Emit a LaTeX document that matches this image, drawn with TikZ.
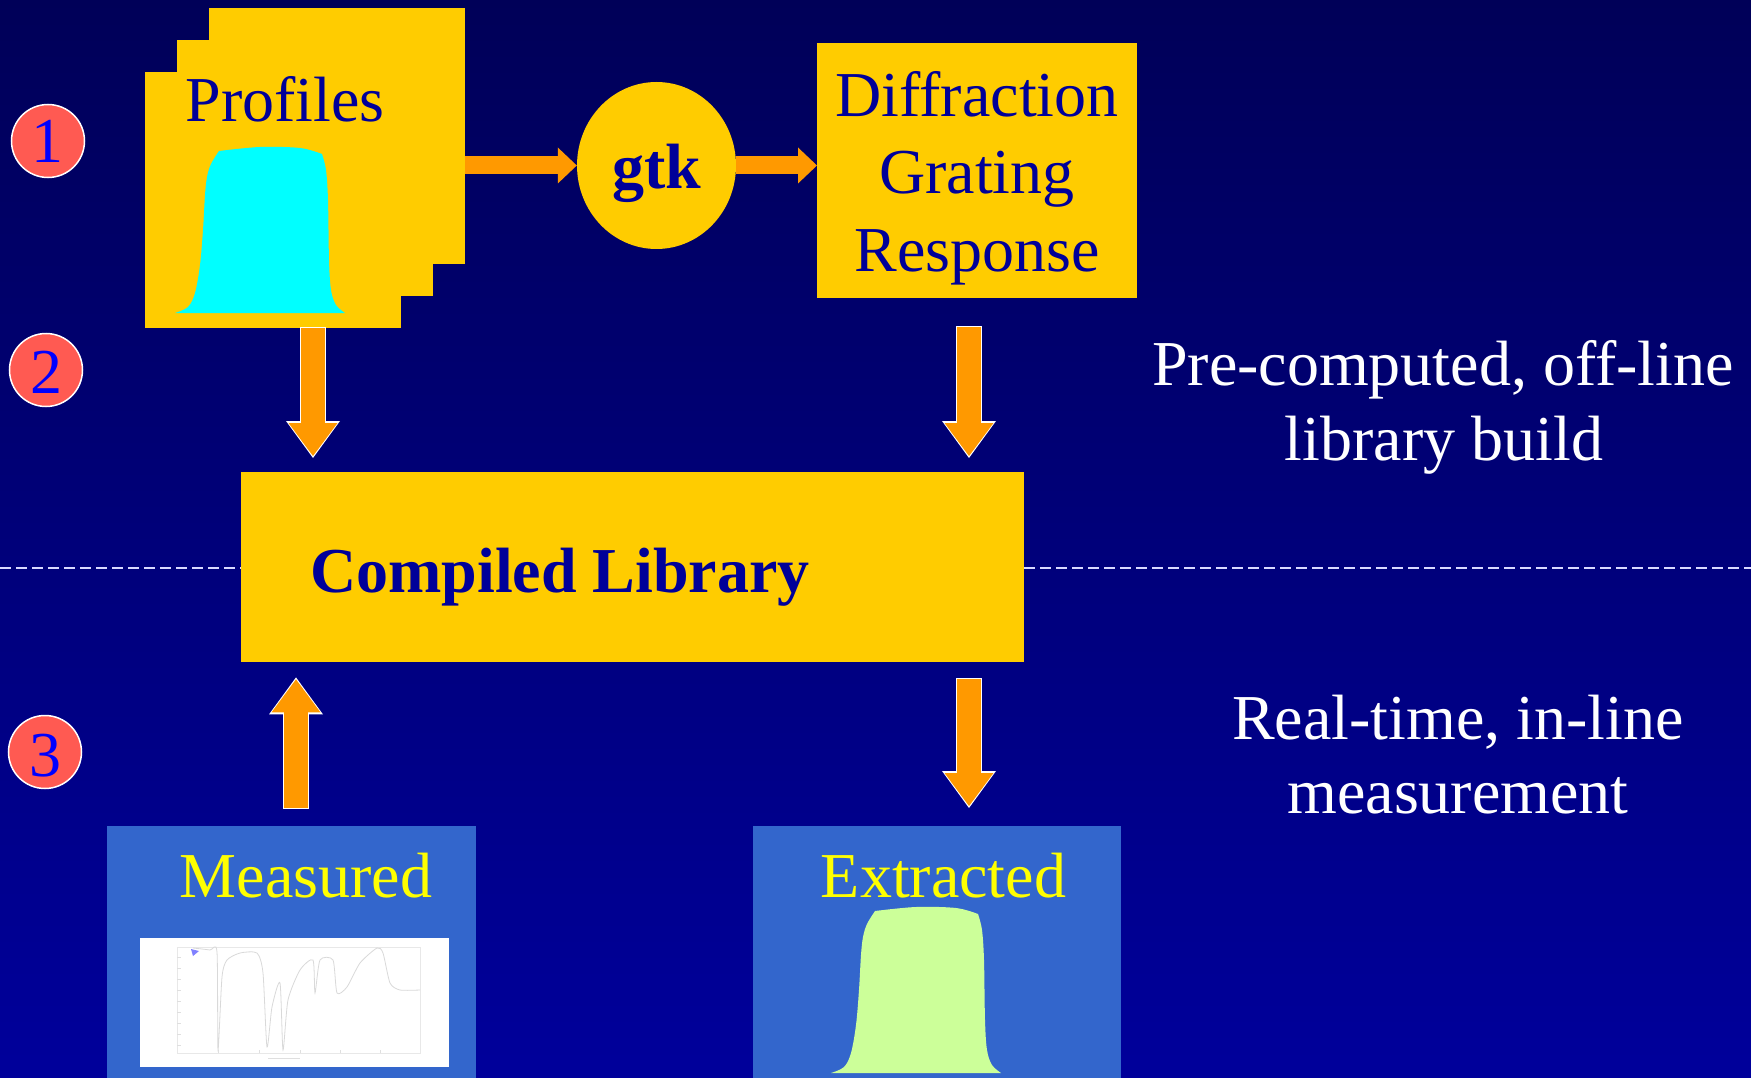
\documentclass[tikz,border=0pt]{standalone}
\usepackage{fontspec}
\setmainfont{Liberation Serif}
\usetikzlibrary{shapes.geometric,arrows.meta}
\definecolor{bgtop}{RGB}{0,0,88}
\definecolor{bgbot}{RGB}{0,0,155}
\definecolor{gold}{RGB}{255,204,0}
\definecolor{orng}{RGB}{255,153,0}
\definecolor{navytext}{RGB}{0,0,153}
\definecolor{coral}{RGB}{255,90,82}
\definecolor{numblue}{RGB}{0,0,255}
\definecolor{panel}{RGB}{51,102,204}
\definecolor{lime}{RGB}{204,255,153}
\definecolor{cyanfill}{RGB}{0,255,255}
\definecolor{yel}{RGB}{255,255,0}
\newcommand\bellshape{plot[smooth,tension=0.55] coordinates {(175,313) (188,307) (195,293) (200,265) (203,230) (205,195) (207,177) (211,164) (219,151)}
  -- plot[smooth,tension=0.55] coordinates {(219,151) (260,147) (300,148) (322,154)}
  -- plot[smooth,tension=0.55] coordinates {(322,154) (326,170) (328,200) (329,260) (331,290) (336,305) (345,313)} -- cycle}
\begin{document}
\begin{tikzpicture}[x=1pt,y=-1pt,
  txt/.style={font=\fontsize{64}{77}\selectfont, inner sep=0pt, anchor=base},
  boldtxt/.style={txt, font=\fontsize{64}{77}\selectfont\bfseries},
  ybox/.style={fill=gold, draw=none, inner sep=0pt, anchor=north west},
  pbox/.style={fill=panel, draw=none, inner sep=0pt, anchor=north west},
  numcirc/.style={circle, fill=coral, draw=white, line width=1.5pt, minimum size=73pt, inner sep=0pt},
  harrow/.style={draw=orng, line width=18pt, -{Triangle[length=19pt,width=36pt,line width=0pt]}},
  varrowbg/.style={draw=white, line width=26.5pt, -{Triangle[length=37pt,width=54pt,line width=0pt]}},
  varrowfg/.style={draw=orng, line width=24pt, -{Triangle[length=33pt,width=49pt,line width=0pt]}},
  sepline/.style={draw=white!85!blue, line width=1.5pt, dash pattern=on 11pt off 5pt}
]
\useasboundingbox (0,0) rectangle (1751,1078);
\shade[top color=bgtop, bottom color=bgbot] (0,0) rectangle (1751,1078);

% separator
\coordinate (sepL) at (0,568);
\coordinate (sepR) at (1751,568);
\draw[sepline] (sepL) -- (sepR);

% number circles
\node[numcirc] (c1) at (48,141) {};
\node[numcirc] (c2) at (46,370) {};
\node[numcirc] (c3) at (45,752) {};
\node[txt, text=numblue] (n1) at (47,163) {1};
\node[txt, text=numblue] (n2) at (46,393) {2};
\node[txt, text=numblue] (n3) at (45,776) {3};

% profiles stack
\node[ybox, minimum width=256pt, minimum height=256pt] (sheet3) at (209,8) {};
\node[ybox, minimum width=256pt, minimum height=256pt] (sheet2) at (177,40) {};
\node[ybox, minimum width=256pt, minimum height=256pt] (prof) at (145,72) {};
\node[txt, text=navytext] (tprof) at (285,122) {Profiles};
\fill[cyanfill] \bellshape;

% gtk
\node[ellipse, fill=gold, minimum width=159pt, minimum height=167pt, inner sep=0pt] (gtk) at (656.5,165.5) {};
\node[boldtxt, text=navytext] (tgtk) at (656.5,189) {gtk};

% diffraction grating response
\node[ybox, minimum width=320pt, minimum height=255pt] (dgr) at (817,43) {};
\node[txt, text=navytext] (d1) at (977,117) {Diffraction};
\node[txt, text=navytext] (d2) at (977,194) {Grating};
\node[txt, text=navytext] (d3) at (977,271) {Response};

% compiled library
\node[ybox, minimum width=783pt, minimum height=190pt] (lib) at (241,472) {};
\node[boldtxt, text=navytext, anchor=base west] (tlib) at (310,592) {Compiled Library};

% measured / extracted
\node[pbox, minimum width=369pt, minimum height=252pt] (meas) at (107,826) {};
\node[txt, text=yel] (tmeas) at (306,897) {Measured};
\node[fill=white, inner sep=0pt, anchor=north west, minimum width=309pt, minimum height=129pt] (plot) at (140,938) {};
\draw[gray!18, line width=0.6pt] (177,947) rectangle (420,1053);
\foreach \yy in {957,968,979,990,1001,1012,1023,1034,1045} {\draw[gray!25, line width=0.5pt] (177,\yy) -- (181,\yy);}
\foreach \xx in {218,259,300,340,380} {\draw[gray!25, line width=0.5pt] (\xx,1053) -- (\xx,1050);}
\draw[gray!25, line width=0.6pt] (268,1058) -- (300,1058);
\draw[gray!30, line width=0.8pt] plot[smooth, tension=0.4] coordinates {(193,948) (210,950) (217,952) (218,1050) (222,977) (227,960) (240,953) (257,953) (263,973) (267,1047) (272,1007) (280,983) (283,1050) (288,1000) (300,970) (313,960) (315,993) (320,960) (333,960) (337,993) (347,987) (360,963) (377,948) (383,953) (390,983) (400,990) (420,990)};
\fill[blue!50] (191,949) -- (199,951) -- (193,956) -- cycle;

\node[pbox, minimum width=368pt, minimum height=252pt] (extr) at (753,826) {};
\node[txt, text=yel] (textr) at (943.5,897) {Extracted};
\fill[lime, shift={(656,760)}] \bellshape;

% horizontal arrows
\draw[harrow] (sheet3.east |- gtk.west) -- (gtk.west);
\draw[harrow] (gtk.east) -- (gtk.east -| dgr.west);

% vertical arrows
\coordinate (lx) at (313,0);
\coordinate (rx) at (969,0);
\coordinate (ux) at (296,0);
\draw[varrowbg, shorten <=-1pt, shorten >=14pt] (lx |- prof.south) -- (lx |- lib.north);
\draw[varrowfg, shorten >=16pt] (lx |- prof.south) -- (lx |- lib.north);
\draw[varrowbg, shorten <=28pt, shorten >=14pt] (rx |- dgr.south) -- (rx |- lib.north);
\draw[varrowfg, shorten <=29pt, shorten >=16pt] (rx |- dgr.south) -- (rx |- lib.north);
\draw[varrowbg, shorten <=17pt, shorten >=15pt] (ux |- meas.north) -- (ux |- lib.south);
\draw[varrowfg, shorten <=18pt, shorten >=17pt] (ux |- meas.north) -- (ux |- lib.south);
\draw[varrowbg, shorten <=16pt, shorten >=18pt] (rx |- lib.south) -- (rx |- extr.north);
\draw[varrowfg, shorten <=17pt, shorten >=20pt] (rx |- lib.south) -- (rx |- extr.north);

% right texts
\node[txt, text=white] (r1) at (1443,385) {Pre-computed, off-line};
\node[txt, text=white] (r2) at (1444,460) {library build};
\node[txt, text=white] (r3) at (1458,739) {Real-time, in-line};
\node[txt, text=white] (r4) at (1458,813) {measurement};
\end{tikzpicture}
\end{document}
